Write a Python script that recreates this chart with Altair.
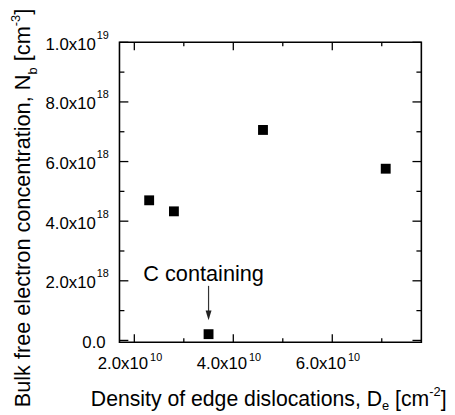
import altair as alt
import pandas as pd

# ---- data ----
dislocation_density = [2.3e10, 2.8e10, 3.5e10, 4.6e10, 7.08e10]
electron_conc = [4.70e18, 4.33e18, 0.21e18, 7.06e18, 5.76e18]

x_major = [2e10, 4e10, 6e10]
x_minor = [3e10, 5e10, 7e10]
x_main_labels = ["2.0x10", "4.0x10", "6.0x10"]
x_sup_labels = ["10", "10", "10"]

y_major = [2e18, 4e18, 6e18, 8e18, 1e19]
y_zero = [0.0]
y_minor = [1e18, 3e18, 5e18, 7e18, 9e18]
y_main_labels = ["2.0x10", "4.0x10", "6.0x10", "8.0x10", "1.0x10"]
y_sup_labels = ["18", "18", "18", "18", "19"]

annot_x = [3.5e10]
annot_text_x = [3.4e10]
annot_text_y = [1.98e18]
arrow_top = [1.83e18]
arrow_bottom = [0.97e18]
arrow_head = [0.84e18]

# ---- layout ----
W, H = 306, 304
FONT = "Liberation Sans"
TITLE_FS = 22
XTITLE_FS = 21.5
SUB_FS = 13
TICK_FS = 17
TSUP_FS = 11

ARIAL = {' ': 278, 'B': 667, 'D': 722, 'N': 722, 'C': 722, 'a': 556, 'b': 556, 'c': 500,
         'd': 556, 'e': 556, 'f': 278, 'g': 556, 'i': 222, 'k': 500, 'l': 222, 'm': 833,
         'n': 556, 'o': 556, 'r': 333, 's': 500, 't': 278, 'u': 556, 'y': 500, ',': 278,
         '[': 278, ']': 278, '-': 333, '.': 278, 'x': 500}


def tw(s, fs):
    return sum(ARIAL.get(c, 556) for c in s) * fs / 1000.0


xscale = alt.Scale(domain=[1.7e10, 7.8e10], nice=False, zero=False)
yscale = alt.Scale(domain=[-0.06e18, 1.0e19], nice=False, zero=False)


def X(f="x"):
    return alt.X(f + ":Q", scale=xscale, axis=None)


def Y(f="y"):
    return alt.Y(f + ":Q", scale=yscale, axis=None)


pts = pd.DataFrame({"x": dislocation_density, "y": electron_conc})
points = alt.Chart(pts).mark_square(size=100, color="black", opacity=1).encode(x=X(), y=Y())


def tick_layers(vals, axis, length):
    df = pd.DataFrame({"v": vals})
    c = alt.Chart(df).mark_rule(color="black", strokeWidth=1.3)
    if axis == "y":
        return [
            c.encode(y=Y("v"), x=alt.value(0), x2=alt.value(length)),
            c.encode(y=Y("v"), x=alt.value(W - length), x2=alt.value(W)),
        ]
    return [
        c.encode(x=X("v"), y=alt.value(H), y2=alt.value(H - length)),
        c.encode(x=X("v"), y=alt.value(0), y2=alt.value(length)),
    ]


ticks = (tick_layers(x_major, "x", 8) + tick_layers(x_minor, "x", 4)
         + tick_layers(y_major + y_zero, "y", 9) + tick_layers(y_minor, "y", 5))

# tick labels
ydf = pd.DataFrame({"v": y_major, "m": y_main_labels, "s": y_sup_labels})
y_main = alt.Chart(ydf).mark_text(align="right", baseline="alphabetic", font=FONT,
                                  fontSize=TICK_FS, dy=7.5).encode(
    y=Y("v"), x=alt.value(-24), text="m:N")
y_sup = alt.Chart(ydf).mark_text(align="left", baseline="alphabetic", font=FONT,
                                 fontSize=TSUP_FS, dy=-3.5).encode(
    y=Y("v"), x=alt.value(-23), text="s:N")
y0 = alt.Chart(pd.DataFrame({"v": y_zero, "m": ["0.0"]})).mark_text(
    align="right", baseline="alphabetic", font=FONT, fontSize=TICK_FS, dy=7.5).encode(
    y=Y("v"), x=alt.value(-14), text="m:N")

xdf = pd.DataFrame({"v": x_major, "m": x_main_labels, "s": x_sup_labels})
x_main = alt.Chart(xdf).mark_text(align="right", baseline="alphabetic", font=FONT,
                                  fontSize=TICK_FS, dx=14).encode(
    x=X("v"), y=alt.value(H + 27), text="m:N")
x_sup = alt.Chart(xdf).mark_text(align="left", baseline="alphabetic", font=FONT,
                                 fontSize=TSUP_FS, dx=16).encode(
    x=X("v"), y=alt.value(H + 19), text="s:N")

# annotation
adf = pd.DataFrame({"x": annot_x, "y1": arrow_top, "y2": arrow_bottom, "yh": arrow_head,
                    "tx": annot_text_x, "ty": annot_text_y, "t": ["C containing"]})
arrow_shaft = alt.Chart(adf).mark_rule(color="#333333", strokeWidth=1.2).encode(
    x=X(), y=Y("y1"), y2="y2:Q")
arrow_headm = alt.Chart(adf).mark_point(shape="M-0.6,-1L0.6,-1L0,1Z", size=100, filled=True,
                                        color="#222222", opacity=1).encode(x=X(), y=Y("yh"))
annot_text = alt.Chart(adf).mark_text(font=FONT, fontSize=TITLE_FS, align="center",
                                      baseline="alphabetic").encode(
    x=X("tx"), y=Y("ty"), text="t:N")

one = pd.DataFrame({"a": [0]})


def txt(s, x, y, fs, angle=0):
    return alt.Chart(one).mark_text(text=s, font=FONT, fontSize=fs, align="left",
                                    baseline="alphabetic", angle=angle).encode(
        x=alt.value(x), y=alt.value(y))


def pieces(parts):
    out = []
    pos = 0.0
    for s, fs, sh in parts:
        lead = len(s) - len(s.lstrip(" "))
        pos += tw(" " * lead, fs)
        s2 = s.lstrip(" ")
        out.append((s2, fs, sh, pos))
        pos += tw(s2, fs)
    return out


# x title
xt_x0 = -29
xt_y = 369
xparts = pieces([("Density of edge dislocations, D", XTITLE_FS, 0), ("e", SUB_FS, 4),
                 (" [cm", XTITLE_FS, 0), ("-2", SUB_FS, -10), ("]", XTITLE_FS, 0)])
xtitle = [txt(s, xt_x0 + off, xt_y + sh, fs) for s, fs, sh, off in xparts]

# y title (rotated, reading upward)
yt_x = -91
yt_y0 = 370
yparts = pieces([("Bulk free electron concentration, N", TITLE_FS, 0), ("b", SUB_FS, 7),
                 (" [cm", TITLE_FS, 0), ("-3", SUB_FS, -10), ("]", TITLE_FS, 0)])
ytitle = [txt(s, yt_x + sh, yt_y0 - off, fs, 270) for s, fs, sh, off in yparts]

layers = ticks + [y_main, y_sup, y0, x_main, x_sup, arrow_shaft, arrow_headm,
                  annot_text, points] + xtitle + ytitle

chart = alt.layer(*layers).properties(
    width=W, height=H,
    autosize="none",
    padding={"left": 113, "top": 32, "right": 26, "bottom": 71},
).configure(
    background="white",
    view=alt.ViewConfig(stroke="black", strokeWidth=1.6),
)

chart.save("out.html", embed_options={"renderer": "svg", "actions": False})
